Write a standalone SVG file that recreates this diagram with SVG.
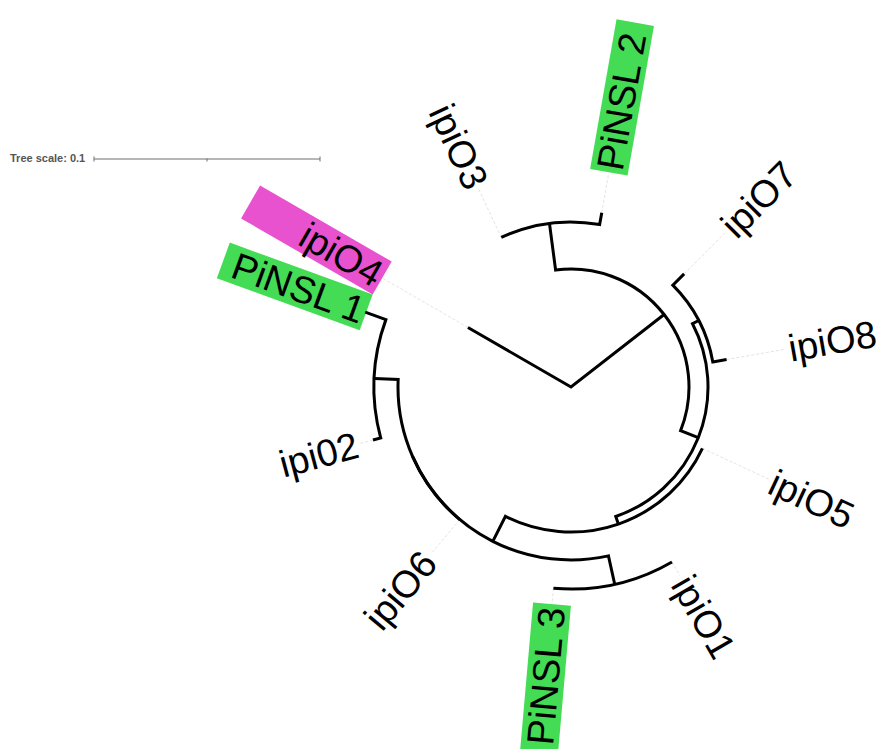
<svg xmlns="http://www.w3.org/2000/svg" width="878" height="749" viewBox="0 0 878 749">
  <style>
    .br { fill: none; stroke: #000; stroke-width: 3; stroke-linejoin: miter; stroke-linecap: butt; }
    .dash { fill: none; stroke: #e4e4e4; stroke-width: 1; stroke-dasharray: 3 2; }
    .lbl { font-family: "Liberation Sans", Arial, sans-serif; font-size: 38px; fill: #000; }
    .green { fill: #44dc55; }
    .pink { fill: #e952cf; }
    .scale { stroke: #6e6e6e; stroke-width: 1; fill: none; }
    .scaletext { font-family: "Liberation Sans", Arial, sans-serif; font-size: 11px; font-weight: bold; fill: #555; }
  </style>
  <rect width="878" height="749" fill="#fff"/>

  <!-- scale bar -->
  <g id="tree-scale">
    <text class="scaletext" x="10" y="162">Tree scale: 0.1</text>
    <path class="scale" d="M94 159 H320 M94 156.5 V161.5 M320 156.5 V161.5 M207 158.5 V161.5"/>
  </g>

  <!-- label backgrounds and texts, one group per leaf (tree centre at 571,387) -->
  <g id="leaf-ipiO4" transform="rotate(30 571 387)">
    <rect class="pink" x="201" y="368" width="152" height="38"/>
    <text class="lbl" x="350" y="387" dy=".35em" text-anchor="end">ipiO4</text>
  </g>
  <g id="leaf-ipiO3" transform="rotate(65 571 387)">
    <text class="lbl" x="350" y="387" dy=".35em" text-anchor="end">ipiO3</text>
  </g>
  <g id="leaf-PiNSL2" transform="rotate(-80 571 387)">
    <rect class="green" x="789" y="368" width="152" height="38"/>
    <text class="lbl" x="792" y="387" dy=".35em">PiNSL 2</text>
  </g>
  <g id="leaf-ipiO7" transform="rotate(-45 571 387)">
    <text class="lbl" x="792" y="387" dy=".35em">ipiO7</text>
  </g>
  <g id="leaf-ipiO8" transform="rotate(-10 571 387)">
    <text class="lbl" x="792" y="387" dy=".35em">ipiO8</text>
  </g>
  <g id="leaf-ipiO5" transform="rotate(25 571 387)">
    <text class="lbl" x="792" y="387" dy=".35em">ipiO5</text>
  </g>
  <g id="leaf-ipiO1" transform="rotate(60 571 387)">
    <text class="lbl" x="792" y="387" dy=".35em">ipiO1</text>
  </g>
  <g id="leaf-PiNSL3" transform="rotate(-85 571 387)">
    <rect class="green" x="201" y="368" width="152" height="38"/>
    <text class="lbl" x="350" y="387" dy=".35em" text-anchor="end">PiNSL 3</text>
  </g>
  <g id="leaf-ipiO6" transform="rotate(-50 571 387)">
    <text class="lbl" x="350" y="387" dy=".35em" text-anchor="end">ipiO6</text>
  </g>
  <g id="leaf-ipi02" transform="rotate(-15 571 387)">
    <text class="lbl" x="350" y="387" dy=".35em" text-anchor="end">ipi02</text>
  </g>
  <g id="leaf-PiNSL1" transform="rotate(20 571 387)">
    <rect class="green" x="201" y="368" width="152" height="38"/>
    <text class="lbl" x="350" y="387" dy=".35em" text-anchor="end">PiNSL 1</text>
  </g>

  <!-- branches -->
  <g id="connectors">
    <!-- dashed label guides -->
    <path class="dash" d="M467.94 327.5 L382.21 278"/>
    <path class="dash" d="M501.27 237.46 L478.87 189.42"/>
    <path class="dash" d="M601.74 212.69 L608.86 172.31"/>
    <path class="dash" d="M684.14 273.86 L725.15 232.85"/>
    <path class="dash" d="M726.6 359.56 L785.69 349.14"/>
    <path class="dash" d="M702.41 448.28 L768.58 479.13"/>
    <path class="dash" d="M672 561.94 L680 575.79"/>
    <path class="dash" d="M553.39 588.23 L552 604.17"/>
    <path class="dash" d="M459.8 519.53 L430.87 554"/>
    <path class="dash" d="M372.98 440.06 L360.43 443.42"/>

    <!-- root -->
    <path id="node-root" class="br" d="M467.94 327.5 L571 387 L664.12 314.53"/>
    <!-- A -->
    <path id="node-A" class="br" d="M549.46 223.41 L555.6 270.01 A118 118 0 0 1 680.62 430.67 L698.27 437.7"/>
    <!-- B: ipiO3 / PiNSL 2 -->
    <path id="node-B" class="br" d="M501.27 237.46 A165 165 0 0 1 599.65 224.51 L601.74 212.69"/>
    <!-- D -->
    <path id="node-D" class="br" d="M698.73 320.51 L692.52 323.74 A137 137 0 0 1 615.74 516.49 L618.35 524.05"/>
    <!-- E: ipiO7 / ipiO8 -->
    <path id="node-E" class="br" d="M684.14 273.86 L672.82 285.18 A144 144 0 0 1 712.81 361.99 L726.6 359.56"/>
    <!-- F: ipiO5 / G -->
    <path id="node-F" class="br" d="M702.41 448.28 A145 145 0 0 1 505.45 516.34 L492.8 541.32"/>
    <!-- G -->
    <path id="node-G" class="br" d="M614.72 584.21 L608.44 555.9 A173 173 0 0 1 412.65 456.68"/>
    <!-- J: ipiO6 / I -->
    <path id="node-J" class="br" d="M459.8 519.53 A173 173 0 0 1 398.16 379.45 L374.19 378.41"/>
    <!-- H: ipiO1 / PiNSL 3 -->
    <path id="node-H" class="br" d="M672 561.94 A202 202 0 0 1 553.39 588.23"/>
    <!-- I: ipi02 / PiNSL 1 -->
    <path id="node-I" class="br" d="M372.98 440.06 L380.71 437.99 A197 197 0 0 1 385.88 319.62 L365.21 312.1"/>
  </g>
</svg>
